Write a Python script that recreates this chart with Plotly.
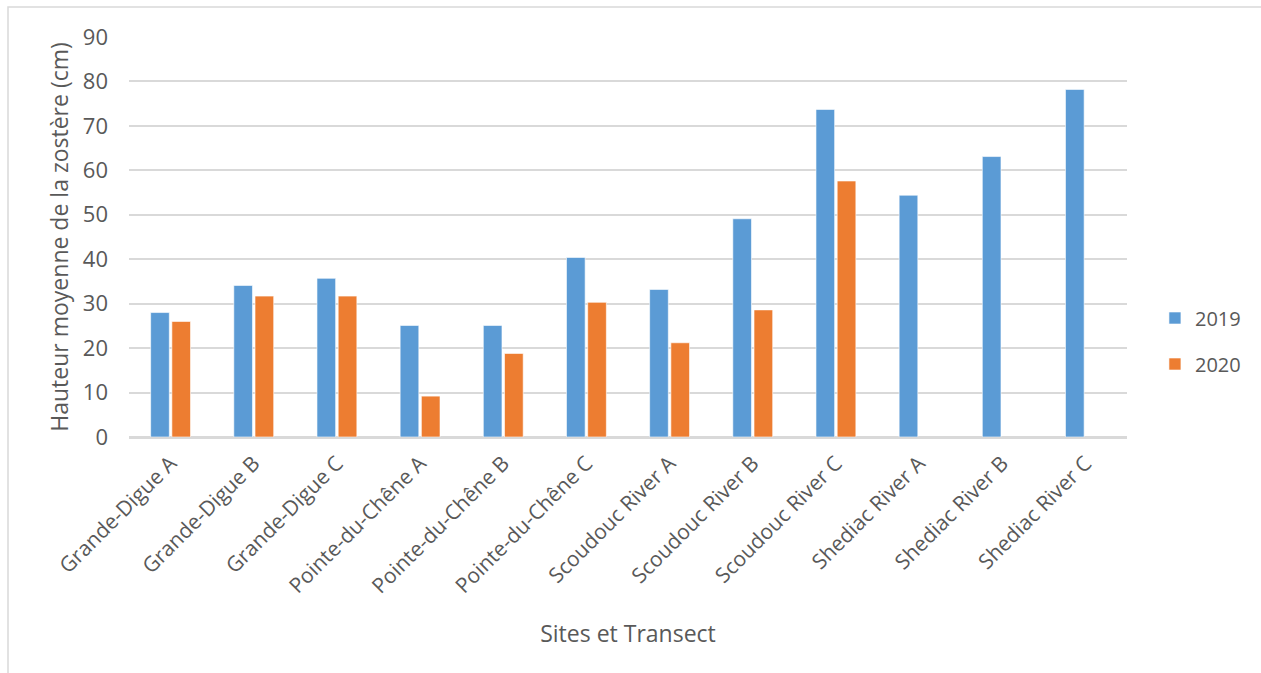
import plotly.graph_objects as go

categories = ["Grande-Digue A", "Grande-Digue B", "Grande-Digue C",
              "Pointe-du-Chêne A", "Pointe-du-Chêne B", "Pointe-du-Chêne C",
              "Scoudouc River A", "Scoudouc River B", "Scoudouc River C",
              "Shediac River A", "Shediac River B", "Shediac River C"]
values_2019 = [28.0, 34.1, 35.7, 25.1, 25.1, 40.4, 33.2, 49.1, 73.7, 54.4, 63.1, 78.2]
values_2020 = [26.0, 31.7, 31.7, 9.2, 18.8, 30.3, 21.2, 28.6, 57.6, None, None, None]
y_ticks = [0, 10, 20, 30, 40, 50, 60, 70, 80, 90]

FONT = "Open Sans"
TXT = "#595959"

fig = go.Figure()
fig.add_trace(go.Bar(name="2019", x=categories, y=values_2019, legendgroup="a",
                     marker=dict(color="#5B9BD5", line=dict(color="#FFFFFF", width=0.6))))
fig.add_trace(go.Bar(name="2020", x=categories, y=values_2020, legendgroup="b",
                     marker=dict(color="#ED7D31", line=dict(color="#FFFFFF", width=0.6))))

W, H = 1261, 673
L, R, T, B = 129, 1127, 37, 437

fig.update_layout(
    width=W, height=H,
    margin=dict(l=L, r=W - R, t=T, b=H - B),
    paper_bgcolor="white", plot_bgcolor="white",
    barmode="group", bargap=0.49, bargroupgap=0.12,
    font=dict(family=FONT, color=TXT),
    legend=dict(x=1.028, y=0.24, xanchor="left", yanchor="middle",
                font=dict(size=20, family=FONT, color=TXT),
                traceorder="grouped", tracegroupgap=17, itemwidth=30),
    xaxis=dict(title=dict(text="Sites et Transect", font=dict(size=23, color=TXT), standoff=28),
               tickangle=-45, tickfont=dict(size=21, color=TXT),
               showline=True, linecolor="#D9D9D9", linewidth=1.5,
               showgrid=False, ticks="", ticklabelstandoff=4, automargin=False),
    yaxis=dict(title=dict(text="Hauteur moyenne de la zostère (cm)", font=dict(size=23, color=TXT), standoff=7),
               range=[0, 90], tickvals=y_ticks, tickfont=dict(size=22, color=TXT),
               showgrid=True, gridcolor="#D9D9D9", gridwidth=1.5,
               zeroline=True, zerolinecolor="#D9D9D9", zerolinewidth=1.5,
               ticks="", ticklabelstandoff=20, automargin=False),
    showlegend=True,
)

fig.add_shape(type="rect", xref="paper", yref="paper",
              x0=(8 - L) / (R - L), x1=(1266 - L) / (R - L),
              y0=(B - 680) / (B - T), y1=(B - 7) / (B - T),
              line=dict(color="#D9D9D9", width=1.5), fillcolor="rgba(0,0,0,0)", layer="below")

fig.write_html("out.html")
